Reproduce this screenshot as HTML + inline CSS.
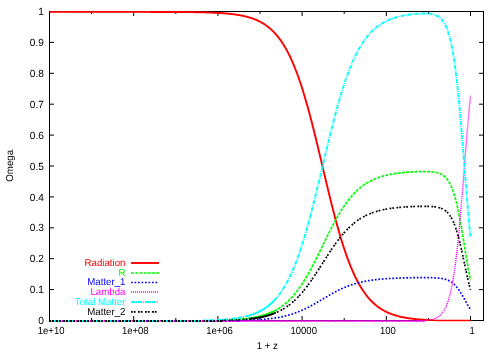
<!DOCTYPE html><html><head><meta charset="utf-8"><title>Omega vs 1+z</title><style>html,body{margin:0;padding:0;background:#fff}svg{display:block;will-change:transform}text{font-family:"Liberation Sans",sans-serif;font-size:10px;fill:#000}path{fill:none}</style></head><body>
<svg width="500" height="350" viewBox="0 0 500 350">
<rect width="500" height="350" fill="#fff"/>
<path d="M49.5 11.5 H483.5 V320.5 H49.5 Z" stroke="#000" stroke-width="1" shape-rendering="crispEdges"/>
<path d="M49.5 289.60 h4.5 M483.5 289.60 h-4.5 M49.5 258.70 h4.5 M483.5 258.70 h-4.5 M49.5 227.80 h4.5 M483.5 227.80 h-4.5 M49.5 196.90 h4.5 M483.5 196.90 h-4.5 M49.5 166.00 h4.5 M483.5 166.00 h-4.5 M49.5 135.10 h4.5 M483.5 135.10 h-4.5 M49.5 104.20 h4.5 M483.5 104.20 h-4.5 M49.5 73.30 h4.5 M483.5 73.30 h-4.5 M49.5 42.40 h4.5 M483.5 42.40 h-4.5 M91.60 320.5 v-2.5 M91.60 11.5 v2.5 M133.70 320.5 v-4.5 M133.70 11.5 v4.5 M175.80 320.5 v-2.5 M175.80 11.5 v2.5 M217.90 320.5 v-4.5 M217.90 11.5 v4.5 M260.00 320.5 v-2.5 M260.00 11.5 v2.5 M302.10 320.5 v-4.5 M302.10 11.5 v4.5 M344.20 320.5 v-2.5 M344.20 11.5 v2.5 M386.30 320.5 v-4.5 M386.30 11.5 v4.5 M428.40 320.5 v-2.5 M428.40 11.5 v2.5 M470.50 320.5 v-4.5 M470.50 11.5 v4.5" stroke="#000" stroke-width="1"/>
<text transform="translate(43.90,324.10) skewX(0.1) scale(0.975,1)" text-anchor="end" style="font-size:10.40px;fill:#000">0</text>
<text transform="translate(43.90,293.20) skewX(0.1) scale(0.975,1)" text-anchor="end" style="font-size:10.40px;fill:#000">0.1</text>
<text transform="translate(43.90,262.30) skewX(0.1) scale(0.975,1)" text-anchor="end" style="font-size:10.40px;fill:#000">0.2</text>
<text transform="translate(43.90,231.40) skewX(0.1) scale(0.975,1)" text-anchor="end" style="font-size:10.40px;fill:#000">0.3</text>
<text transform="translate(43.90,200.50) skewX(0.1) scale(0.975,1)" text-anchor="end" style="font-size:10.40px;fill:#000">0.4</text>
<text transform="translate(43.90,169.60) skewX(0.1) scale(0.975,1)" text-anchor="end" style="font-size:10.40px;fill:#000">0.5</text>
<text transform="translate(43.90,138.70) skewX(0.1) scale(0.975,1)" text-anchor="end" style="font-size:10.40px;fill:#000">0.6</text>
<text transform="translate(43.90,107.80) skewX(0.1) scale(0.975,1)" text-anchor="end" style="font-size:10.40px;fill:#000">0.7</text>
<text transform="translate(43.90,76.90) skewX(0.1) scale(0.975,1)" text-anchor="end" style="font-size:10.40px;fill:#000">0.8</text>
<text transform="translate(43.90,46.00) skewX(0.1) scale(0.975,1)" text-anchor="end" style="font-size:10.40px;fill:#000">0.9</text>
<text transform="translate(43.90,15.10) skewX(0.1) scale(0.975,1)" text-anchor="end" style="font-size:10.40px;fill:#000">1</text>
<text transform="translate(51.10,334.10) skewX(0.1) scale(0.925,1)" text-anchor="middle" style="font-size:10.30px;fill:#000">1e+10</text>
<text transform="translate(135.30,334.10) skewX(0.1) scale(0.925,1)" text-anchor="middle" style="font-size:10.30px;fill:#000">1e+08</text>
<text transform="translate(219.50,334.10) skewX(0.1) scale(0.925,1)" text-anchor="middle" style="font-size:10.30px;fill:#000">1e+06</text>
<text transform="translate(303.70,334.10) skewX(0.1) scale(0.925,1)" text-anchor="middle" style="font-size:10.30px;fill:#000">10000</text>
<text transform="translate(387.90,334.10) skewX(0.1) scale(0.925,1)" text-anchor="middle" style="font-size:10.30px;fill:#000">100</text>
<text transform="translate(472.10,334.10) skewX(0.1) scale(0.925,1)" text-anchor="middle" style="font-size:10.30px;fill:#000">1</text>
<text transform="translate(267.30,348.50) skewX(0.1) scale(0.970,1)" text-anchor="middle" style="font-size:10.00px;fill:#000">1 + z</text>
<text transform="translate(13.00,165.80) rotate(-90) skewX(0.1) scale(0.970,1)" text-anchor="middle" style="font-size:10.00px;fill:#000">Omega</text>
<text transform="translate(125.50,266.00) skewX(0.1) scale(0.970,1)" text-anchor="end" style="font-size:10.00px;fill:#ff0000">Radiation</text>
<path d="M131 263.0 H159" stroke="#ff0000" stroke-width="1.9"/>
<path d="M49.50 11.90 L50.03 11.90 L50.55 11.90 L51.08 11.90 L51.61 11.90 L52.13 11.90 L52.66 11.90 L53.18 11.90 L53.71 11.90 L54.24 11.90 L54.76 11.90 L55.29 11.90 L55.82 11.90 L56.34 11.90 L56.87 11.90 L57.39 11.90 L57.92 11.90 L58.45 11.90 L58.97 11.90 L59.50 11.90 L60.02 11.90 L60.55 11.90 L61.08 11.90 L61.60 11.90 L62.13 11.90 L62.66 11.90 L63.18 11.90 L63.71 11.90 L64.23 11.90 L64.76 11.90 L65.29 11.90 L65.81 11.90 L66.34 11.90 L66.87 11.90 L67.39 11.90 L67.92 11.90 L68.44 11.90 L68.97 11.90 L69.50 11.90 L70.02 11.90 L70.55 11.90 L71.08 11.90 L71.60 11.90 L72.13 11.90 L72.66 11.90 L73.18 11.90 L73.71 11.90 L74.23 11.90 L74.76 11.90 L75.29 11.90 L75.81 11.90 L76.34 11.90 L76.87 11.90 L77.39 11.90 L77.92 11.90 L78.44 11.90 L78.97 11.90 L79.50 11.90 L80.02 11.90 L80.55 11.90 L81.08 11.90 L81.60 11.90 L82.13 11.90 L82.65 11.90 L83.18 11.90 L83.71 11.90 L84.23 11.90 L84.76 11.90 L85.28 11.90 L85.81 11.90 L86.34 11.90 L86.86 11.90 L87.39 11.90 L87.92 11.90 L88.44 11.90 L88.97 11.90 L89.49 11.90 L90.02 11.90 L90.55 11.90 L91.07 11.90 L91.60 11.90 L92.13 11.90 L92.65 11.90 L93.18 11.90 L93.71 11.90 L94.23 11.90 L94.76 11.90 L95.28 11.90 L95.81 11.90 L96.34 11.90 L96.86 11.90 L97.39 11.90 L97.92 11.90 L98.44 11.90 L98.97 11.90 L99.49 11.90 L100.02 11.90 L100.55 11.90 L101.07 11.90 L101.60 11.90 L102.12 11.90 L102.65 11.90 L103.18 11.90 L103.70 11.90 L104.23 11.90 L104.76 11.90 L105.28 11.90 L105.81 11.90 L106.33 11.90 L106.86 11.90 L107.39 11.90 L107.91 11.90 L108.44 11.90 L108.97 11.90 L109.49 11.90 L110.02 11.90 L110.54 11.90 L111.07 11.90 L111.60 11.90 L112.12 11.90 L112.65 11.90 L113.18 11.90 L113.70 11.90 L114.23 11.90 L114.76 11.90 L115.28 11.90 L115.81 11.90 L116.33 11.90 L116.86 11.90 L117.39 11.90 L117.91 11.90 L118.44 11.90 L118.97 11.90 L119.49 11.90 L120.02 11.90 L120.54 11.90 L121.07 11.91 L121.60 11.91 L122.12 11.91 L122.65 11.91 L123.17 11.91 L123.70 11.91 L124.23 11.91 L124.75 11.91 L125.28 11.91 L125.81 11.91 L126.33 11.91 L126.86 11.91 L127.38 11.91 L127.91 11.91 L128.44 11.91 L128.96 11.91 L129.49 11.91 L130.02 11.91 L130.54 11.91 L131.07 11.91 L131.59 11.91 L132.12 11.91 L132.65 11.91 L133.17 11.91 L133.70 11.91 L134.23 11.91 L134.75 11.91 L135.28 11.91 L135.81 11.91 L136.33 11.91 L136.86 11.91 L137.38 11.91 L137.91 11.91 L138.44 11.91 L138.96 11.91 L139.49 11.91 L140.02 11.91 L140.54 11.91 L141.07 11.92 L141.59 11.92 L142.12 11.92 L142.65 11.92 L143.17 11.92 L143.70 11.92 L144.23 11.92 L144.75 11.92 L145.28 11.92 L145.80 11.92 L146.33 11.92 L146.86 11.92 L147.38 11.92 L147.91 11.92 L148.44 11.92 L148.96 11.92 L149.49 11.92 L150.01 11.92 L150.54 11.93 L151.07 11.93 L151.59 11.93 L152.12 11.93 L152.65 11.93 L153.17 11.93 L153.70 11.93 L154.22 11.93 L154.75 11.93 L155.28 11.93 L155.80 11.93 L156.33 11.93 L156.85 11.94 L157.38 11.94 L157.91 11.94 L158.43 11.94 L158.96 11.94 L159.49 11.94 L160.01 11.94 L160.54 11.94 L161.06 11.95 L161.59 11.95 L162.12 11.95 L162.64 11.95 L163.17 11.95 L163.70 11.95 L164.22 11.95 L164.75 11.96 L165.28 11.96 L165.80 11.96 L166.33 11.96 L166.85 11.96 L167.38 11.96 L167.91 11.97 L168.43 11.97 L168.96 11.97 L169.48 11.97 L170.01 11.97 L170.54 11.98 L171.06 11.98 L171.59 11.98 L172.12 11.98 L172.64 11.99 L173.17 11.99 L173.69 11.99 L174.22 11.99 L174.75 12.00 L175.27 12.00 L175.80 12.00 L176.33 12.00 L176.85 12.01 L177.38 12.01 L177.91 12.01 L178.43 12.02 L178.96 12.02 L179.48 12.02 L180.01 12.03 L180.54 12.03 L181.06 12.03 L181.59 12.04 L182.12 12.04 L182.64 12.05 L183.17 12.05 L183.69 12.06 L184.22 12.06 L184.75 12.07 L185.27 12.07 L185.80 12.07 L186.33 12.08 L186.85 12.09 L187.38 12.09 L187.90 12.10 L188.43 12.10 L188.96 12.11 L189.48 12.11 L190.01 12.12 L190.53 12.13 L191.06 12.13 L191.59 12.14 L192.11 12.15 L192.64 12.15 L193.17 12.16 L193.69 12.17 L194.22 12.18 L194.75 12.19 L195.27 12.19 L195.80 12.20 L196.32 12.21 L196.85 12.22 L197.38 12.23 L197.90 12.24 L198.43 12.25 L198.95 12.26 L199.48 12.27 L200.01 12.28 L200.53 12.29 L201.06 12.30 L201.59 12.31 L202.11 12.33 L202.64 12.34 L203.17 12.35 L203.69 12.36 L204.22 12.38 L204.74 12.39 L205.27 12.41 L205.80 12.42 L206.32 12.44 L206.85 12.45 L207.38 12.47 L207.90 12.48 L208.43 12.50 L208.95 12.52 L209.48 12.54 L210.01 12.56 L210.53 12.58 L211.06 12.59 L211.58 12.61 L212.11 12.64 L212.64 12.66 L213.16 12.68 L213.69 12.70 L214.22 12.73 L214.74 12.75 L215.27 12.77 L215.80 12.80 L216.32 12.83 L216.85 12.85 L217.37 12.88 L217.90 12.91 L218.43 12.94 L218.95 12.97 L219.48 13.00 L220.00 13.03 L220.53 13.06 L221.06 13.10 L221.58 13.13 L222.11 13.17 L222.64 13.21 L223.16 13.24 L223.69 13.28 L224.22 13.32 L224.74 13.36 L225.27 13.41 L225.79 13.45 L226.32 13.50 L226.85 13.54 L227.37 13.59 L227.90 13.64 L228.43 13.69 L228.95 13.74 L229.48 13.80 L230.00 13.85 L230.53 13.91 L231.06 13.96 L231.58 14.02 L232.11 14.09 L232.63 14.15 L233.16 14.21 L233.69 14.28 L234.21 14.35 L234.74 14.42 L235.27 14.50 L235.79 14.57 L236.32 14.65 L236.85 14.73 L237.37 14.81 L237.90 14.89 L238.42 14.98 L238.95 15.07 L239.48 15.16 L240.00 15.25 L240.53 15.35 L241.06 15.45 L241.58 15.55 L242.11 15.66 L242.63 15.77 L243.16 15.88 L243.69 15.99 L244.21 16.11 L244.74 16.23 L245.27 16.36 L245.79 16.48 L246.32 16.62 L246.84 16.75 L247.37 16.89 L247.90 17.03 L248.42 17.18 L248.95 17.33 L249.47 17.49 L250.00 17.65 L250.53 17.81 L251.05 17.98 L251.58 18.16 L252.11 18.34 L252.63 18.52 L253.16 18.71 L253.69 18.90 L254.21 19.10 L254.74 19.31 L255.26 19.52 L255.79 19.74 L256.32 19.96 L256.84 20.19 L257.37 20.42 L257.89 20.67 L258.42 20.91 L258.95 21.17 L259.47 21.43 L260.00 21.70 L260.53 21.98 L261.05 22.26 L261.58 22.56 L262.11 22.86 L262.63 23.16 L263.16 23.48 L263.68 23.81 L264.21 24.14 L264.74 24.48 L265.26 24.83 L265.79 25.20 L266.32 25.57 L266.84 25.95 L267.37 26.34 L267.89 26.74 L268.42 27.15 L268.95 27.58 L269.47 28.01 L270.00 28.45 L270.52 28.91 L271.05 29.38 L271.58 29.86 L272.10 30.35 L272.63 30.86 L273.16 31.38 L273.68 31.91 L274.21 32.46 L274.74 33.01 L275.26 33.59 L275.79 34.18 L276.31 34.78 L276.84 35.40 L277.37 36.03 L277.89 36.68 L278.42 37.34 L278.95 38.02 L279.47 38.72 L280.00 39.43 L280.52 40.16 L281.05 40.91 L281.58 41.67 L282.10 42.46 L282.63 43.26 L283.15 44.08 L283.68 44.92 L284.21 45.78 L284.73 46.65 L285.26 47.55 L285.79 48.47 L286.31 49.41 L286.84 50.37 L287.37 51.35 L287.89 52.35 L288.42 53.37 L288.94 54.42 L289.47 55.48 L290.00 56.57 L290.52 57.68 L291.05 58.82 L291.58 59.97 L292.10 61.15 L292.63 62.36 L293.15 63.58 L293.68 64.83 L294.21 66.11 L294.73 67.41 L295.26 68.73 L295.78 70.08 L296.31 71.45 L296.84 72.84 L297.36 74.27 L297.89 75.71 L298.42 77.18 L298.94 78.67 L299.47 80.19 L300.00 81.74 L300.52 83.31 L301.05 84.90 L301.57 86.52 L302.10 88.16 L302.63 89.82 L303.15 91.51 L303.68 93.22 L304.21 94.96 L304.73 96.72 L305.26 98.50 L305.78 100.31 L306.31 102.14 L306.84 103.99 L307.36 105.86 L307.89 107.75 L308.42 109.66 L308.94 111.60 L309.47 113.55 L309.99 115.53 L310.52 117.52 L311.05 119.53 L311.57 121.56 L312.10 123.60 L312.62 125.66 L313.15 127.74 L313.68 129.83 L314.20 131.94 L314.73 134.06 L315.26 136.19 L315.78 138.33 L316.31 140.49 L316.83 142.66 L317.36 144.83 L317.89 147.02 L318.41 149.21 L318.94 151.41 L319.47 153.62 L319.99 155.83 L320.52 158.04 L321.05 160.26 L321.57 162.48 L322.10 164.71 L322.62 166.93 L323.15 169.16 L323.68 171.38 L324.20 173.60 L324.73 175.82 L325.25 178.03 L325.78 180.24 L326.31 182.44 L326.83 184.64 L327.36 186.83 L327.89 189.01 L328.41 191.18 L328.94 193.35 L329.47 195.50 L329.99 197.64 L330.52 199.76 L331.04 201.88 L331.57 203.98 L332.10 206.06 L332.62 208.13 L333.15 210.19 L333.68 212.23 L334.20 214.25 L334.73 216.25 L335.25 218.23 L335.78 220.20 L336.31 222.14 L336.83 224.07 L337.36 225.97 L337.88 227.86 L338.41 229.72 L338.94 231.56 L339.46 233.38 L339.99 235.17 L340.52 236.95 L341.04 238.70 L341.57 240.42 L342.10 242.12 L342.62 243.80 L343.15 245.46 L343.67 247.09 L344.20 248.70 L344.73 250.28 L345.25 251.84 L345.78 253.37 L346.31 254.88 L346.83 256.36 L347.36 257.82 L347.88 259.25 L348.41 260.66 L348.94 262.05 L349.46 263.41 L349.99 264.75 L350.52 266.06 L351.04 267.35 L351.57 268.61 L352.09 269.85 L352.62 271.07 L353.15 272.26 L353.67 273.43 L354.20 274.58 L354.73 275.70 L355.25 276.80 L355.78 277.88 L356.30 278.94 L356.83 279.98 L357.36 280.99 L357.88 281.98 L358.41 282.95 L358.94 283.90 L359.46 284.83 L359.99 285.74 L360.51 286.63 L361.04 287.50 L361.57 288.35 L362.09 289.18 L362.62 289.99 L363.15 290.79 L363.67 291.56 L364.20 292.32 L364.72 293.06 L365.25 293.78 L365.78 294.49 L366.30 295.18 L366.83 295.85 L367.36 296.51 L367.88 297.15 L368.41 297.77 L368.93 298.39 L369.46 298.98 L369.99 299.56 L370.51 300.13 L371.04 300.68 L371.56 301.22 L372.09 301.75 L372.62 302.26 L373.14 302.76 L373.67 303.25 L374.20 303.73 L374.72 304.19 L375.25 304.64 L375.78 305.08 L376.30 305.51 L376.83 305.93 L377.35 306.34 L377.88 306.73 L378.41 307.12 L378.93 307.50 L379.46 307.86 L379.99 308.22 L380.51 308.57 L381.04 308.91 L381.56 309.24 L382.09 309.56 L382.62 309.87 L383.14 310.18 L383.67 310.47 L384.19 310.76 L384.72 311.04 L385.25 311.32 L385.77 311.58 L386.30 311.84 L386.83 312.09 L387.35 312.34 L387.88 312.58 L388.41 312.81 L388.93 313.04 L389.46 313.26 L389.98 313.47 L390.51 313.68 L391.04 313.88 L391.56 314.08 L392.09 314.27 L392.62 314.46 L393.14 314.64 L393.67 314.82 L394.19 314.99 L394.72 315.16 L395.25 315.32 L395.77 315.48 L396.30 315.63 L396.82 315.78 L397.35 315.93 L397.88 316.07 L398.40 316.21 L398.93 316.34 L399.46 316.47 L399.98 316.60 L400.51 316.72 L401.04 316.84 L401.56 316.96 L402.09 317.07 L402.61 317.18 L403.14 317.29 L403.67 317.39 L404.19 317.49 L404.72 317.59 L405.25 317.69 L405.77 317.78 L406.30 317.87 L406.82 317.96 L407.35 318.04 L407.88 318.13 L408.40 318.21 L408.93 318.29 L409.46 318.36 L409.98 318.44 L410.51 318.51 L411.03 318.58 L411.56 318.65 L412.09 318.71 L412.61 318.78 L413.14 318.84 L413.67 318.90 L414.19 318.96 L414.72 319.02 L415.24 319.07 L415.77 319.13 L416.30 319.18 L416.82 319.23 L417.35 319.28 L417.88 319.33 L418.40 319.38 L418.93 319.42 L419.45 319.47 L419.98 319.51 L420.51 319.55 L421.03 319.60 L421.56 319.64 L422.08 319.67 L422.61 319.71 L423.14 319.75 L423.66 319.78 L424.19 319.82 L424.72 319.85 L425.24 319.88 L425.77 319.92 L426.29 319.95 L426.82 319.98 L427.35 320.01 L427.87 320.03 L428.40 320.06 L428.93 320.09 L429.45 320.11" stroke="#ff0000" stroke-width="1.9" stroke-linejoin="round"/>
<path d="M429.5 320.11 L437.5 320.6 H470.5" stroke="#ff0000" stroke-width="1.5"/>
<text transform="translate(125.50,275.80) skewX(0.1) scale(0.970,1)" text-anchor="end" style="font-size:10.00px;fill:#00ff00">R</text>
<path d="M131 273.0 H159" stroke="#00ff00" stroke-width="1.7" stroke-dasharray="3 1.2"/>
<path d="M49 321 H217" stroke="#00ff00" stroke-width="2" shape-rendering="crispEdges" stroke-dasharray="3 1"/>
<path d="M216.85 320.54 L217.37 320.52 L217.90 320.51 L218.43 320.50 L218.95 320.48 L219.48 320.47 L220.00 320.45 L220.53 320.43 L221.06 320.42 L221.58 320.40 L222.11 320.38 L222.64 320.37 L223.16 320.35 L223.69 320.33 L224.22 320.31 L224.74 320.29 L225.27 320.27 L225.79 320.25 L226.32 320.22 L226.85 320.20 L227.37 320.18 L227.90 320.15 L228.43 320.13 L228.95 320.10 L229.48 320.08 L230.00 320.05 L230.53 320.02 L231.06 320.00 L231.58 319.97 L232.11 319.94 L232.63 319.91 L233.16 319.87 L233.69 319.84 L234.21 319.81 L234.74 319.77 L235.27 319.74 L235.79 319.70 L236.32 319.66 L236.85 319.63 L237.37 319.59 L237.90 319.55 L238.42 319.50 L238.95 319.46 L239.48 319.42 L240.00 319.37 L240.53 319.32 L241.06 319.27 L241.58 319.22 L242.11 319.17 L242.63 319.12 L243.16 319.07 L243.69 319.01 L244.21 318.95 L244.74 318.89 L245.27 318.83 L245.79 318.77 L246.32 318.71 L246.84 318.64 L247.37 318.57 L247.90 318.50 L248.42 318.43 L248.95 318.36" stroke="#00ff00" stroke-width="1.7" stroke-linejoin="round" stroke-dasharray="3 1.2"/>
<path d="M248.95 318.36 L249.47 318.28 L250.00 318.21 L250.53 318.13 L251.05 318.04 L251.58 317.96 L252.11 317.87 L252.63 317.78 L253.16 317.69 L253.69 317.60 L254.21 317.50 L254.74 317.40 L255.26 317.30 L255.79 317.19 L256.32 317.08 L256.84 316.97 L257.37 316.86 L257.89 316.74 L258.42 316.62 L258.95 316.49 L259.47 316.37 L260.00 316.24 L260.53 316.10 L261.05 315.96 L261.58 315.82 L262.11 315.68 L262.63 315.53 L263.16 315.37 L263.68 315.21 L264.21 315.05 L264.74 314.88 L265.26 314.71 L265.79 314.54 L266.32 314.36 L266.84 314.17 L267.37 313.98 L267.89 313.79 L268.42 313.59 L268.95 313.38 L269.47 313.17 L270.00 312.95 L270.52 312.73 L271.05 312.50 L271.58 312.27 L272.10 312.03 L272.63 311.79 L273.16 311.53 L273.68 311.28 L274.21 311.01" stroke="#00ff00" stroke-width="2.0" stroke-linejoin="round"/>
<path d="M274.21 311.01 L274.74 310.74 L275.26 310.46 L275.79 310.17 L276.31 309.88 L276.84 309.58 L277.37 309.27 L277.89 308.96 L278.42 308.64 L278.95 308.31 L279.47 307.97 L280.00 307.62 L280.52 307.27 L281.05 306.90 L281.58 306.53 L282.10 306.15 L282.63 305.76 L283.15 305.36 L283.68 304.95 L284.21 304.54 L284.73 304.11 L285.26 303.67 L285.79 303.23 L286.31 302.77 L286.84 302.30 L287.37 301.83 L287.89 301.34 L288.42 300.85 L288.94 300.34 L289.47 299.82 L290.00 299.29 L290.52 298.75 L291.05 298.20 L291.58 297.64 L292.10 297.06 L292.63 296.48 L293.15 295.88 L293.68 295.27 L294.21 294.65 L294.73 294.02 L295.26 293.38 L295.78 292.73 L296.31 292.06 L296.84 291.38 L297.36 290.69 L297.89 289.99 L298.42 289.27 L298.94 288.55 L299.47 287.81 L300.00 287.06 L300.52 286.30 L301.05 285.52 L301.57 284.74 L302.10 283.94 L302.63 283.13 L303.15 282.31 L303.68 281.48 L304.21 280.63 L304.73 279.78 L305.26 278.91 L305.78 278.03 L306.31 277.14 L306.84 276.25 L307.36 275.34 L307.89 274.42 L308.42 273.49 L308.94 272.55 L309.47 271.60 L309.99 270.64 L310.52 269.67 L311.05 268.69 L311.57 267.71 L312.10 266.71 L312.62 265.71 L313.15 264.70 L313.68 263.69 L314.20 262.66 L314.73 261.63 L315.26 260.60 L315.78 259.55 L316.31 258.50 L316.83 257.45 L317.36 256.39 L317.89 255.33 L318.41 254.27 L318.94 253.20 L319.47 252.13 L319.99 251.05 L320.52 249.97 L321.05 248.90 L321.57 247.82 L322.10 246.74 L322.62 245.65 L323.15 244.57 L323.68 243.49 L324.20 242.41 L324.73 241.34 L325.25 240.26 L325.78 239.19 L326.31 238.12 L326.83 237.05 L327.36 235.98 L327.89 234.92 L328.41 233.87 L328.94 232.82 L329.47 231.77 L329.99 230.73 L330.52 229.70 L331.04 228.67 L331.57 227.65 L332.10 226.64 L332.62 225.63 L333.15 224.63 L333.68 223.64 L334.20 222.66 L334.73 221.69 L335.25 220.72 L335.78 219.77 L336.31 218.82 L336.83 217.89 L337.36 216.96 L337.88 216.05 L338.41 215.14 L338.94 214.25 L339.46 213.36 L339.99 212.49 L340.52 211.63 L341.04 210.78 L341.57 209.94 L342.10 209.11 L342.62 208.29 L343.15 207.49 L343.67 206.70 L344.20 205.92 L344.73 205.15 L345.25 204.39 L345.78 203.65 L346.31 202.91 L346.83 202.19 L347.36 201.48 L347.88 200.79 L348.41 200.10 L348.94 199.43 L349.46 198.77 L349.99 198.12 L350.52 197.48 L351.04 196.85 L351.57 196.24 L352.09 195.64 L352.62 195.04 L353.15 194.46 L353.67 193.90 L354.20 193.34 L354.73 192.79 L355.25 192.26 L355.78 191.73 L356.30 191.22 L356.83 190.72 L357.36 190.22 L357.88 189.74 L358.41 189.27 L358.94 188.81 L359.46 188.36 L359.99 187.91 L360.51 187.48 L361.04 187.06 L361.57 186.65 L362.09 186.24 L362.62 185.85 L363.15 185.46 L363.67 185.08 L364.20 184.72 L364.72 184.36 L365.25 184.01 L365.78 183.66 L366.30 183.33 L366.83 183.00 L367.36 182.68 L367.88 182.37 L368.41 182.06 L368.93 181.77 L369.46 181.48 L369.99 181.20 L370.51 180.92 L371.04 180.65 L371.56 180.39 L372.09 180.13 L372.62 179.88 L373.14 179.64 L373.67 179.40 L374.20 179.17 L374.72 178.95 L375.25 178.73 L375.78 178.51 L376.30 178.31 L376.83 178.10 L377.35 177.90 L377.88 177.71 L378.41 177.52 L378.93 177.34 L379.46 177.16 L379.99 176.99 L380.51 176.82 L381.04 176.66 L381.56 176.49 L382.09 176.34 L382.62 176.19 L383.14 176.04 L383.67 175.89 L384.19 175.75 L384.72 175.62 L385.25 175.48 L385.77 175.35 L386.30 175.23 L386.83 175.11 L387.35 174.99 L387.88 174.87 L388.41 174.76 L388.93 174.65 L389.46 174.54 L389.98 174.44 L390.51 174.34 L391.04 174.24 L391.56 174.14 L392.09 174.05 L392.62 173.96 L393.14 173.87 L393.67 173.78 L394.19 173.70 L394.72 173.62 L395.25 173.54 L395.77 173.46 L396.30 173.39 L396.82 173.32 L397.35 173.24 L397.88 173.18 L398.40 173.11 L398.93 173.04 L399.46 172.98 L399.98 172.92 L400.51 172.86 L401.04 172.80 L401.56 172.75 L402.09 172.69 L402.61 172.64 L403.14 172.59 L403.67 172.54 L404.19 172.49 L404.72 172.44 L405.25 172.40 L405.77 172.35 L406.30 172.31 L406.82 172.27 L407.35 172.23 L407.88 172.19 L408.40 172.15 L408.93 172.11 L409.46 172.08 L409.98 172.04 L410.51 172.01 L411.03 171.98 L411.56 171.95 L412.09 171.92 L412.61 171.89 L413.14 171.86 L413.67 171.83 L414.19 171.81 L414.72 171.78 L415.24 171.76 L415.77 171.74 L416.30 171.72 L416.82 171.70 L417.35 171.68 L417.88 171.66 L418.40 171.64 L418.93 171.63 L419.45 171.61 L419.98 171.60 L420.51 171.59 L421.03 171.58 L421.56 171.57 L422.08 171.57 L422.61 171.56 L423.14 171.56 L423.66 171.55 L424.19 171.55 L424.72 171.56 L425.24 171.56 L425.77 171.57 L426.29 171.58 L426.82 171.59 L427.35 171.60 L427.87 171.62 L428.40 171.64 L428.93 171.66 L429.45 171.69 L429.98 171.72 L430.51 171.75 L431.03 171.79 L431.56 171.84 L432.08 171.89 L432.61 171.94 L433.14 172.00 L433.66 172.07 L434.19 172.15 L434.72 172.23 L435.24 172.32 L435.77 172.43 L436.29 172.54 L436.82 172.66 L437.35 172.79 L437.87 172.94 L438.40 173.10 L438.93 173.28 L439.45 173.47 L439.98 173.68 L440.50 173.91 L441.03 174.16 L441.56 174.43 L442.08 174.72 L442.61 175.04 L443.13 175.39 L443.66 175.77 L444.19 176.19 L444.71 176.63 L445.24 177.12 L445.77 177.64 L446.29 178.21 L446.82 178.83 L447.34 179.50 L447.87 180.22 L448.40 180.99 L448.92 181.83 L449.45 182.73 L449.98 183.70 L450.50 184.75 L451.03 185.87 L451.56 187.07 L452.08 188.35 L452.61 189.73 L453.13 191.19 L453.66 192.75 L454.19 194.41 L454.71 196.18 L455.24 198.04 L455.77 200.01 L456.29 202.09 L456.82 204.28 L457.34 206.57 L457.87 208.98 L458.40 211.48 L458.92 214.09 L459.45 216.79 L459.98 219.59 L460.50 222.47 L461.03 225.43 L461.55 228.47 L462.08 231.56 L462.61 234.71 L463.13 237.89 L463.66 241.11 L464.19 244.35 L464.71 247.59 L465.24 250.82 L465.76 254.04 L466.29 257.22 L466.82 260.37 L467.34 263.46 L467.87 266.49 L468.39 269.46 L468.92 272.34 L469.45 275.13 L469.97 277.84 L470.50 280.44" stroke="#00ff00" stroke-width="1.7" stroke-linejoin="round" stroke-dasharray="3 1.2"/>
<text transform="translate(125.50,285.20) skewX(0.1) scale(0.970,1)" text-anchor="end" style="font-size:10.00px;fill:#0000ff">Matter_1</text>
<path d="M131 282.5 H159" stroke="#0000ff" stroke-width="1.7" stroke-dasharray="1.7 1.8"/>
<path d="M49 321 H239" stroke="#0000ff" stroke-width="2" shape-rendering="crispEdges" stroke-dasharray="2 2"/>
<path d="M239.48 320.54 L240.00 320.53 L240.53 320.51 L241.06 320.50 L241.58 320.48 L242.11 320.47 L242.63 320.45 L243.16 320.44 L243.69 320.42 L244.21 320.41 L244.74 320.39 L245.27 320.37 L245.79 320.35 L246.32 320.33 L246.84 320.32 L247.37 320.30 L247.90 320.28 L248.42 320.26 L248.95 320.23 L249.47 320.21 L250.00 320.19 L250.53 320.17 L251.05 320.14 L251.58 320.12 L252.11 320.09 L252.63 320.07 L253.16 320.04 L253.69 320.01 L254.21 319.98 L254.74 319.96 L255.26 319.93 L255.79 319.89 L256.32 319.86 L256.84 319.83 L257.37 319.80 L257.89 319.76 L258.42 319.73 L258.95 319.69 L259.47 319.66 L260.00 319.62 L260.53 319.58 L261.05 319.54 L261.58 319.50 L262.11 319.46 L262.63 319.41 L263.16 319.37 L263.68 319.32 L264.21 319.27 L264.74 319.23 L265.26 319.18 L265.79 319.13 L266.32 319.07 L266.84 319.02 L267.37 318.96 L267.89 318.91 L268.42 318.85 L268.95 318.79 L269.47 318.73 L270.00 318.67 L270.52 318.60 L271.05 318.54 L271.58 318.47 L272.10 318.40 L272.63 318.33 L273.16 318.25 L273.68 318.18 L274.21 318.10 L274.74 318.02 L275.26 317.94 L275.79 317.86 L276.31 317.77 L276.84 317.69 L277.37 317.60 L277.89 317.51 L278.42 317.41 L278.95 317.32 L279.47 317.22 L280.00 317.12 L280.52 317.02 L281.05 316.91 L281.58 316.80 L282.10 316.69 L282.63 316.58 L283.15 316.46 L283.68 316.34 L284.21 316.22 L284.73 316.10 L285.26 315.97 L285.79 315.84 L286.31 315.71 L286.84 315.58 L287.37 315.44 L287.89 315.30 L288.42 315.15 L288.94 315.01 L289.47 314.85 L290.00 314.70 L290.52 314.54 L291.05 314.38 L291.58 314.22 L292.10 314.06 L292.63 313.89 L293.15 313.71 L293.68 313.54 L294.21 313.36 L294.73 313.17 L295.26 312.99 L295.78 312.80 L296.31 312.60 L296.84 312.41 L297.36 312.21 L297.89 312.00 L298.42 311.80 L298.94 311.58 L299.47 311.37 L300.00 311.15 L300.52 310.93 L301.05 310.71 L301.57 310.48 L302.10 310.25 L302.63 310.01 L303.15 309.77 L303.68 309.53 L304.21 309.29 L304.73 309.04 L305.26 308.79 L305.78 308.53 L306.31 308.28 L306.84 308.02 L307.36 307.75 L307.89 307.48 L308.42 307.22 L308.94 306.94 L309.47 306.67 L309.99 306.39 L310.52 306.11 L311.05 305.82 L311.57 305.54 L312.10 305.25 L312.62 304.96 L313.15 304.67 L313.68 304.37 L314.20 304.07 L314.73 303.78 L315.26 303.48 L315.78 303.17 L316.31 302.87 L316.83 302.56 L317.36 302.26 L317.89 301.95 L318.41 301.64 L318.94 301.33 L319.47 301.02 L319.99 300.71 L320.52 300.39 L321.05 300.08 L321.57 299.77 L322.10 299.45 L322.62 299.14 L323.15 298.83 L323.68 298.51 L324.20 298.20 L324.73 297.89 L325.25 297.58 L325.78 297.26 L326.31 296.95 L326.83 296.64 L327.36 296.33 L327.89 296.03 L328.41 295.72 L328.94 295.42 L329.47 295.11 L329.99 294.81 L330.52 294.51 L331.04 294.21 L331.57 293.92 L332.10 293.62 L332.62 293.33 L333.15 293.04 L333.68 292.75 L334.20 292.47 L334.73 292.19 L335.25 291.91 L335.78 291.63 L336.31 291.36 L336.83 291.08 L337.36 290.82 L337.88 290.55 L338.41 290.29 L338.94 290.03 L339.46 289.77 L339.99 289.52 L340.52 289.27 L341.04 289.02 L341.57 288.78 L342.10 288.54 L342.62 288.30 L343.15 288.07 L343.67 287.84 L344.20 287.61 L344.73 287.39 L345.25 287.17 L345.78 286.95 L346.31 286.74 L346.83 286.53 L347.36 286.33 L347.88 286.12 L348.41 285.92 L348.94 285.73 L349.46 285.54 L349.99 285.35 L350.52 285.16 L351.04 284.98 L351.57 284.80 L352.09 284.63 L352.62 284.46 L353.15 284.29 L353.67 284.12 L354.20 283.96 L354.73 283.80 L355.25 283.65 L355.78 283.50 L356.30 283.35 L356.83 283.20 L357.36 283.06 L357.88 282.92 L358.41 282.78 L358.94 282.65 L359.46 282.52 L359.99 282.39 L360.51 282.26 L361.04 282.14 L361.57 282.02 L362.09 281.90 L362.62 281.79 L363.15 281.68 L363.67 281.57 L364.20 281.46 L364.72 281.36 L365.25 281.25 L365.78 281.16 L366.30 281.06 L366.83 280.96 L367.36 280.87 L367.88 280.78 L368.41 280.69 L368.93 280.61 L369.46 280.52 L369.99 280.44 L370.51 280.36 L371.04 280.28 L371.56 280.21 L372.09 280.13 L372.62 280.06 L373.14 279.99 L373.67 279.92 L374.20 279.85 L374.72 279.79 L375.25 279.72 L375.78 279.66 L376.30 279.60 L376.83 279.54 L377.35 279.48 L377.88 279.43 L378.41 279.37 L378.93 279.32 L379.46 279.27 L379.99 279.22 L380.51 279.17 L381.04 279.12 L381.56 279.08 L382.09 279.03 L382.62 278.99 L383.14 278.94 L383.67 278.90 L384.19 278.86 L384.72 278.82 L385.25 278.78 L385.77 278.74 L386.30 278.71 L386.83 278.67 L387.35 278.64 L387.88 278.60 L388.41 278.57 L388.93 278.54 L389.46 278.51 L389.98 278.48 L390.51 278.45 L391.04 278.42 L391.56 278.39 L392.09 278.37 L392.62 278.34 L393.14 278.31 L393.67 278.29 L394.19 278.26 L394.72 278.24 L395.25 278.22 L395.77 278.20 L396.30 278.17 L396.82 278.15 L397.35 278.13 L397.88 278.11 L398.40 278.09 L398.93 278.07 L399.46 278.06 L399.98 278.04 L400.51 278.02 L401.04 278.00 L401.56 277.99 L402.09 277.97 L402.61 277.96 L403.14 277.94 L403.67 277.93 L404.19 277.91 L404.72 277.90 L405.25 277.89 L405.77 277.87 L406.30 277.86 L406.82 277.85 L407.35 277.84 L407.88 277.83 L408.40 277.81 L408.93 277.80 L409.46 277.79 L409.98 277.78 L410.51 277.77 L411.03 277.76 L411.56 277.76 L412.09 277.75 L412.61 277.74 L413.14 277.73 L413.67 277.72 L414.19 277.72 L414.72 277.71 L415.24 277.70 L415.77 277.70 L416.30 277.69 L416.82 277.68 L417.35 277.68 L417.88 277.67 L418.40 277.67 L418.93 277.66 L419.45 277.66 L419.98 277.66 L420.51 277.65 L421.03 277.65 L421.56 277.65 L422.08 277.65 L422.61 277.64 L423.14 277.64 L423.66 277.64 L424.19 277.64 L424.72 277.64 L425.24 277.64 L425.77 277.65 L426.29 277.65 L426.82 277.65 L427.35 277.66 L427.87 277.66 L428.40 277.67 L428.93 277.67 L429.45 277.68 L429.98 277.69 L430.51 277.70 L431.03 277.71 L431.56 277.72 L432.08 277.74 L432.61 277.76 L433.14 277.77 L433.66 277.79 L434.19 277.81 L434.72 277.84 L435.24 277.87 L435.77 277.90 L436.29 277.93 L436.82 277.96 L437.35 278.00 L437.87 278.04 L438.40 278.09 L438.93 278.14 L439.45 278.20 L439.98 278.26 L440.50 278.32 L441.03 278.40 L441.56 278.48 L442.08 278.56 L442.61 278.65 L443.13 278.76 L443.66 278.87 L444.19 278.99 L444.71 279.12 L445.24 279.26 L445.77 279.41 L446.29 279.57 L446.82 279.75 L447.34 279.95 L447.87 280.16 L448.40 280.38 L448.92 280.62 L449.45 280.89 L449.98 281.17 L450.50 281.47 L451.03 281.79 L451.56 282.14 L452.08 282.52 L452.61 282.91 L453.13 283.34 L453.66 283.79 L454.19 284.27 L454.71 284.79 L455.24 285.33 L455.77 285.90 L456.29 286.50 L456.82 287.14 L457.34 287.80 L457.87 288.50 L458.40 289.23 L458.92 289.98 L459.45 290.77 L459.98 291.58 L460.50 292.41 L461.03 293.27 L461.55 294.15 L462.08 295.05 L462.61 295.96 L463.13 296.89 L463.66 297.82 L464.19 298.76 L464.71 299.70 L465.24 300.64 L465.76 301.57 L466.29 302.50 L466.82 303.41 L467.34 304.31 L467.87 305.19 L468.39 306.05 L468.92 306.88 L469.45 307.69 L469.97 308.48 L470.50 309.23" stroke="#0000ff" stroke-width="1.7" stroke-linejoin="round" stroke-dasharray="1.7 1.8"/>
<text transform="translate(125.50,295.30) skewX(0.1) scale(0.970,1)" text-anchor="end" style="font-size:10.00px;fill:#ff00ff">Lambda</text>
<path d="M131 292.0 H159" stroke="#ff00ff" stroke-width="1.7" stroke-dasharray="1.1 0.9"/>
<path d="M49 321 H425" stroke="#ff00ff" stroke-width="2" stroke-opacity="0.6"/>
<path d="M49 321 H425" stroke="#ff00ff" stroke-width="2" stroke-dasharray="1 2.4"/>
<path d="M424.72 320.55 L425.24 320.50 L425.77 320.46 L426.29 320.41 L426.82 320.36 L427.35 320.30 L427.87 320.24 L428.40 320.17 L428.93 320.09 L429.45 320.01 L429.98 319.92 L430.51 319.83 L431.03 319.72 L431.56 319.61 L432.08 319.48 L432.61 319.35 L433.14 319.20 L433.66 319.04 L434.19 318.86 L434.72 318.67 L435.24 318.46 L435.77 318.23 L436.29 317.98 L436.82 317.71 L437.35 317.42 L437.87 317.10 L438.40 316.76 L438.93 316.38 L439.45 315.97 L439.98 315.52 L440.50 315.04 L441.03 314.51 L441.56 313.94 L442.08 313.32 L442.61 312.64 L443.13 311.91 L443.66 311.12 L444.19 310.26 L444.71 309.32 L445.24 308.31 L445.77 307.22 L446.29 306.04 L446.82 304.76 L447.34 303.38 L447.87 301.88 L448.40 300.28 L448.92 298.54 L449.45 296.68 L449.98 294.67 L450.50 292.51 L451.03 290.20 L451.56 287.72 L452.08 285.06 L452.61 282.23 L453.13 279.21 L453.66 275.98 L454.19 272.56 L454.71 268.93 L455.24 265.08 L455.77 261.01 L456.29 256.73 L456.82 252.22 L457.34 247.49 L457.87 242.54 L458.40 237.38 L458.92 232.01 L459.45 226.44 L459.98 220.68 L460.50 214.74 L461.03 208.64 L461.55 202.39 L462.08 196.02 L462.61 189.54 L463.13 182.98 L463.66 176.35 L464.19 169.69 L464.71 163.02 L465.24 156.36 L465.76 149.74 L466.29 143.18 L466.82 136.70 L467.34 130.33 L467.87 124.09 L468.39 118.00 L468.92 112.06 L469.45 106.31 L469.97 100.74 L470.50 95.38" stroke="#ff00ff" stroke-width="1.4" stroke-linejoin="round" stroke-dasharray="1.1 0.9"/>
<text transform="translate(125.50,305.10) skewX(0.1) scale(0.970,1)" text-anchor="end" style="font-size:10.00px;fill:#00ffff">Total Matter</text>
<path d="M131 302.0 H159" stroke="#00ffff" stroke-width="1.9" stroke-dasharray="4 1 1 1"/>
<path d="M49 321 H203" stroke="#00ffff" stroke-width="2" shape-rendering="crispEdges" stroke-dasharray="4 1 1 1"/>
<path d="M203.17 320.55 L203.69 320.54 L204.22 320.52 L204.74 320.51 L205.27 320.49 L205.80 320.48 L206.32 320.46 L206.85 320.45 L207.38 320.43 L207.90 320.42 L208.43 320.40 L208.95 320.38 L209.48 320.36 L210.01 320.34 L210.53 320.32 L211.06 320.31 L211.58 320.29 L212.11 320.26 L212.64 320.24 L213.16 320.22 L213.69 320.20 L214.22 320.17 L214.74 320.15 L215.27 320.13 L215.80 320.10 L216.32 320.07 L216.85 320.05 L217.37 320.02 L217.90 319.99 L218.43 319.96 L218.95 319.93 L219.48 319.90 L220.00 319.87 L220.53 319.84 L221.06 319.80 L221.58 319.77 L222.11 319.73 L222.64 319.69 L223.16 319.66 L223.69 319.62 L224.22 319.58 L224.74 319.54 L225.27 319.49 L225.79 319.45 L226.32 319.40 L226.85 319.36 L227.37 319.31 L227.90 319.26 L228.43 319.21 L228.95 319.16 L229.48 319.10 L230.00 319.05 L230.53 318.99 L231.06 318.94 L231.58 318.88 L232.11 318.81 L232.63 318.75 L233.16 318.69 L233.69 318.62 L234.21 318.55 L234.74 318.48 L235.27 318.40 L235.79 318.33 L236.32 318.25 L236.85 318.17 L237.37 318.09 L237.90 318.01 L238.42 317.92 L238.95 317.83 L239.48 317.74 L240.00 317.65 L240.53 317.55 L241.06 317.45 L241.58 317.35 L242.11 317.24 L242.63 317.13 L243.16 317.02 L243.69 316.91 L244.21 316.79 L244.74 316.67 L245.27 316.54 L245.79 316.42 L246.32 316.28 L246.84 316.15 L247.37 316.01 L247.90 315.87 L248.42 315.72 L248.95 315.57" stroke="#00ffff" stroke-width="1.9" stroke-linejoin="round" stroke-dasharray="4 1 1 1"/>
<path d="M248.95 315.57 L249.47 315.41 L250.00 315.25 L250.53 315.09 L251.05 314.92 L251.58 314.74 L252.11 314.56 L252.63 314.38 L253.16 314.19 L253.69 314.00 L254.21 313.80 L254.74 313.59 L255.26 313.38 L255.79 313.16 L256.32 312.94 L256.84 312.71 L257.37 312.48 L257.89 312.23 L258.42 311.99 L258.95 311.73 L259.47 311.47 L260.00 311.20 L260.53 310.92 L261.05 310.64 L261.58 310.34 L262.11 310.04 L262.63 309.74 L263.16 309.42 L263.68 309.09 L264.21 308.76 L264.74 308.42 L265.26 308.07 L265.79 307.70 L266.32 307.33 L266.84 306.95 L267.37 306.56 L267.89 306.16 L268.42 305.75 L268.95 305.32 L269.47 304.89 L270.00 304.45 L270.52 303.99 L271.05 303.52 L271.58 303.04 L272.10 302.55 L272.63 302.04 L273.16 301.52 L273.68 300.99 L274.21 300.44" stroke="#00ffff" stroke-width="2.0" stroke-linejoin="round"/>
<path d="M274.21 300.44 L274.74 299.89 L275.26 299.31 L275.79 298.72 L276.31 298.12 L276.84 297.50 L277.37 296.87 L277.89 296.22 L278.42 295.56 L278.95 294.88 L279.47 294.18 L280.00 293.47 L280.52 292.74 L281.05 291.99 L281.58 291.23 L282.10 290.44 L282.63 289.64 L283.15 288.82 L283.68 287.98 L284.21 287.12 L284.73 286.25 L285.26 285.35 L285.79 284.43 L286.31 283.49 L286.84 282.53 L287.37 281.55 L287.89 280.55 L288.42 279.53 L288.94 278.48 L289.47 277.42 L290.00 276.33 L290.52 275.22 L291.05 274.08 L291.58 272.93 L292.10 271.75 L292.63 270.54 L293.15 269.32 L293.68 268.07 L294.21 266.79 L294.73 265.49 L295.26 264.17 L295.78 262.82 L296.31 261.45 L296.84 260.06 L297.36 258.63 L297.89 257.19 L298.42 255.72 L298.94 254.23 L299.47 252.71 L300.00 251.16 L300.52 249.59 L301.05 248.00 L301.57 246.38 L302.10 244.74 L302.63 243.08 L303.15 241.39 L303.68 239.68 L304.21 237.94 L304.73 236.18 L305.26 234.40 L305.78 232.59 L306.31 230.76 L306.84 228.91 L307.36 227.04 L307.89 225.15 L308.42 223.24 L308.94 221.30 L309.47 219.35 L309.99 217.37 L310.52 215.38 L311.05 213.37 L311.57 211.34 L312.10 209.30 L312.62 207.24 L313.15 205.16 L313.68 203.07 L314.20 200.96 L314.73 198.84 L315.26 196.71 L315.78 194.57 L316.31 192.41 L316.83 190.24 L317.36 188.07 L317.89 185.88 L318.41 183.69 L318.94 181.49 L319.47 179.28 L319.99 177.07 L320.52 174.86 L321.05 172.64 L321.57 170.42 L322.10 168.19 L322.62 165.97 L323.15 163.74 L323.68 161.52 L324.20 159.30 L324.73 157.08 L325.25 154.87 L325.78 152.66 L326.31 150.46 L326.83 148.26 L327.36 146.07 L327.89 143.89 L328.41 141.72 L328.94 139.55 L329.47 137.40 L329.99 135.26 L330.52 133.14 L331.04 131.02 L331.57 128.92 L332.10 126.84 L332.62 124.77 L333.15 122.71 L333.68 120.67 L334.20 118.65 L334.73 116.65 L335.25 114.67 L335.78 112.70 L336.31 110.76 L336.83 108.83 L337.36 106.93 L337.88 105.04 L338.41 103.18 L338.94 101.34 L339.46 99.52 L339.99 97.73 L340.52 95.95 L341.04 94.20 L341.57 92.48 L342.10 90.78 L342.62 89.10 L343.15 87.44 L343.67 85.81 L344.20 84.20 L344.73 82.62 L345.25 81.06 L345.78 79.53 L346.31 78.02 L346.83 76.54 L347.36 75.08 L347.88 73.65 L348.41 72.24 L348.94 70.85 L349.46 69.49 L349.99 68.15 L350.52 66.84 L351.04 65.55 L351.57 64.29 L352.09 63.05 L352.62 61.83 L353.15 60.64 L353.67 59.47 L354.20 58.32 L354.73 57.20 L355.25 56.10 L355.78 55.02 L356.30 53.96 L356.83 52.92 L357.36 51.91 L357.88 50.92 L358.41 49.95 L358.94 49.00 L359.46 48.07 L359.99 47.16 L360.51 46.27 L361.04 45.40 L361.57 44.55 L362.09 43.72 L362.62 42.91 L363.15 42.11 L363.67 41.34 L364.20 40.58 L364.72 39.84 L365.25 39.12 L365.78 38.41 L366.30 37.72 L366.83 37.05 L367.36 36.39 L367.88 35.75 L368.41 35.13 L368.93 34.51 L369.46 33.92 L369.99 33.34 L370.51 32.77 L371.04 32.22 L371.56 31.68 L372.09 31.15 L372.62 30.64 L373.14 30.14 L373.67 29.65 L374.20 29.17 L374.72 28.71 L375.25 28.26 L375.78 27.82 L376.30 27.39 L376.83 26.97 L377.35 26.57 L377.88 26.17 L378.41 25.78 L378.93 25.40 L379.46 25.04 L379.99 24.68 L380.51 24.33 L381.04 23.99 L381.56 23.66 L382.09 23.34 L382.62 23.03 L383.14 22.72 L383.67 22.43 L384.19 22.14 L384.72 21.86 L385.25 21.58 L385.77 21.32 L386.30 21.06 L386.83 20.81 L387.35 20.56 L387.88 20.32 L388.41 20.09 L388.93 19.86 L389.46 19.64 L389.98 19.43 L390.51 19.22 L391.04 19.02 L391.56 18.82 L392.09 18.63 L392.62 18.44 L393.14 18.26 L393.67 18.08 L394.19 17.91 L394.72 17.75 L395.25 17.58 L395.77 17.43 L396.30 17.27 L396.82 17.12 L397.35 16.98 L397.88 16.84 L398.40 16.70 L398.93 16.57 L399.46 16.44 L399.98 16.31 L400.51 16.19 L401.04 16.07 L401.56 15.95 L402.09 15.84 L402.61 15.73 L403.14 15.63 L403.67 15.52 L404.19 15.42 L404.72 15.33 L405.25 15.23 L405.77 15.14 L406.30 15.05 L406.82 14.97 L407.35 14.88 L407.88 14.80 L408.40 14.72 L408.93 14.65 L409.46 14.57 L409.98 14.50 L410.51 14.43 L411.03 14.37 L411.56 14.30 L412.09 14.24 L412.61 14.18 L413.14 14.13 L413.67 14.07 L414.19 14.02 L414.72 13.97 L415.24 13.92 L415.77 13.88 L416.30 13.83 L416.82 13.79 L417.35 13.75 L417.88 13.72 L418.40 13.68 L418.93 13.65 L419.45 13.62 L419.98 13.60 L420.51 13.57 L421.03 13.55 L421.56 13.54 L422.08 13.52 L422.61 13.51 L423.14 13.50 L423.66 13.50 L424.19 13.50 L424.72 13.50 L425.24 13.51 L425.77 13.52 L426.29 13.54 L426.82 13.56 L427.35 13.59 L427.87 13.63 L428.40 13.67 L428.93 13.72 L429.45 13.77 L429.98 13.84 L430.51 13.91 L431.03 13.99 L431.56 14.08 L432.08 14.18 L432.61 14.30 L433.14 14.43 L433.66 14.57 L434.19 14.72 L434.72 14.89 L435.24 15.08 L435.77 15.29 L436.29 15.52 L436.82 15.77 L437.35 16.05 L437.87 16.35 L438.40 16.68 L438.93 17.04 L439.45 17.44 L439.98 17.87 L440.50 18.34 L441.03 18.85 L441.56 19.41 L442.08 20.02 L442.61 20.68 L443.13 21.40 L443.66 22.18 L444.19 23.03 L444.71 23.95 L445.24 24.95 L445.77 26.03 L446.29 27.20 L446.82 28.47 L447.34 29.84 L447.87 31.32 L448.40 32.92 L448.92 34.64 L449.45 36.50 L449.98 38.50 L450.50 40.64 L451.03 42.95 L451.56 45.42 L452.08 48.06 L452.61 50.89 L453.13 53.91 L453.66 57.12 L454.19 60.53 L454.71 64.16 L455.24 68.00 L455.77 72.06 L456.29 76.34 L456.82 80.84 L457.34 85.56 L457.87 90.50 L458.40 95.65 L458.92 101.02 L459.45 106.58 L459.98 112.34 L460.50 118.27 L461.03 124.36 L461.55 130.60 L462.08 136.97 L462.61 143.44 L463.13 150.00 L463.66 156.62 L464.19 163.28 L464.71 169.94 L465.24 176.60 L465.76 183.22 L466.29 189.77 L466.82 196.24 L467.34 202.61 L467.87 208.85 L468.39 214.94 L468.92 220.87 L469.45 226.62 L469.97 232.19 L470.50 237.55" stroke="#00ffff" stroke-width="1.9" stroke-linejoin="round" stroke-dasharray="4 1 1 1"/>
<text transform="translate(125.50,314.80) skewX(0.1) scale(0.970,1)" text-anchor="end" style="font-size:10.00px;fill:#000000">Matter_2</text>
<path d="M131 311.8 H159" stroke="#000000" stroke-width="1.7" stroke-dasharray="1.8 1 1.8 2.4"/>
<path d="M49 321 H222" stroke="#000000" stroke-width="2" shape-rendering="crispEdges" stroke-dasharray="2 1 2 2"/>
<path d="M221.58 320.54 L222.11 320.53 L222.64 320.51 L223.16 320.50 L223.69 320.48 L224.22 320.47 L224.74 320.45 L225.27 320.44 L225.79 320.42 L226.32 320.40 L226.85 320.39 L227.37 320.37 L227.90 320.35 L228.43 320.33 L228.95 320.31 L229.48 320.29 L230.00 320.27 L230.53 320.25 L231.06 320.23 L231.58 320.21 L232.11 320.18 L232.63 320.16 L233.16 320.14 L233.69 320.11 L234.21 320.09 L234.74 320.06 L235.27 320.03 L235.79 320.00 L236.32 319.98 L236.85 319.95 L237.37 319.92 L237.90 319.88 L238.42 319.85 L238.95 319.82 L239.48 319.78 L240.00 319.75 L240.53 319.71 L241.06 319.68 L241.58 319.64 L242.11 319.60 L242.63 319.56 L243.16 319.52 L243.69 319.47 L244.21 319.43 L244.74 319.38 L245.27 319.34 L245.79 319.29 L246.32 319.24 L246.84 319.19 L247.37 319.14 L247.90 319.08 L248.42 319.03 L248.95 318.97" stroke="#000000" stroke-width="1.7" stroke-linejoin="round" stroke-dasharray="1.8 1 1.8 2.4"/>
<path d="M248.95 318.97 L249.47 318.92 L250.00 318.86 L250.53 318.79 L251.05 318.73 L251.58 318.67 L252.11 318.60 L252.63 318.53 L253.16 318.46 L253.69 318.39 L254.21 318.31 L254.74 318.24 L255.26 318.16 L255.79 318.08 L256.32 317.99 L256.84 317.91 L257.37 317.82 L257.89 317.73 L258.42 317.64 L258.95 317.54 L259.47 317.44 L260.00 317.34 L260.53 317.24 L261.05 317.13 L261.58 317.03 L262.11 316.91 L262.63 316.80 L263.16 316.68 L263.68 316.56 L264.21 316.43 L264.74 316.31 L265.26 316.18 L265.79 316.04 L266.32 315.90 L266.84 315.76 L267.37 315.61 L267.89 315.46 L268.42 315.31 L268.95 315.15 L269.47 314.99 L270.00 314.83 L270.52 314.65 L271.05 314.48 L271.58 314.30 L272.10 314.12 L272.63 313.93 L273.16 313.73 L273.68 313.54 L274.21 313.33" stroke="#000000" stroke-width="2.0" stroke-linejoin="round"/>
<path d="M274.21 313.33 L274.74 313.12 L275.26 312.91 L275.79 312.69 L276.31 312.47 L276.84 312.24 L277.37 312.00 L277.89 311.76 L278.42 311.51 L278.95 311.26 L279.47 311.00 L280.00 310.73 L280.52 310.46 L281.05 310.18 L281.58 309.89 L282.10 309.60 L282.63 309.30 L283.15 309.00 L283.68 308.68 L284.21 308.36 L284.73 308.04 L285.26 307.70 L285.79 307.36 L286.31 307.01 L286.84 306.65 L287.37 306.29 L287.89 305.91 L288.42 305.53 L288.94 305.14 L289.47 304.74 L290.00 304.34 L290.52 303.92 L291.05 303.50 L291.58 303.07 L292.10 302.63 L292.63 302.18 L293.15 301.72 L293.68 301.26 L294.21 300.78 L294.73 300.30 L295.26 299.80 L295.78 299.30 L296.31 298.79 L296.84 298.27 L297.36 297.74 L297.89 297.20 L298.42 296.65 L298.94 296.09 L299.47 295.53 L300.00 294.95 L300.52 294.37 L301.05 293.77 L301.57 293.17 L302.10 292.56 L302.63 291.94 L303.15 291.31 L303.68 290.67 L304.21 290.02 L304.73 289.36 L305.26 288.70 L305.78 288.02 L306.31 287.34 L306.84 286.65 L307.36 285.95 L307.89 285.25 L308.42 284.53 L308.94 283.81 L309.47 283.08 L309.99 282.35 L310.52 281.60 L311.05 280.85 L311.57 280.10 L312.10 279.34 L312.62 278.57 L313.15 277.79 L313.68 277.01 L314.20 276.23 L314.73 275.44 L315.26 274.64 L315.78 273.84 L316.31 273.04 L316.83 272.23 L317.36 271.42 L317.89 270.60 L318.41 269.78 L318.94 268.96 L319.47 268.14 L319.99 267.31 L320.52 266.49 L321.05 265.66 L321.57 264.83 L322.10 264.00 L322.62 263.17 L323.15 262.34 L323.68 261.51 L324.20 260.69 L324.73 259.86 L325.25 259.03 L325.78 258.21 L326.31 257.39 L326.83 256.57 L327.36 255.75 L327.89 254.94 L328.41 254.13 L328.94 253.32 L329.47 252.52 L329.99 251.72 L330.52 250.93 L331.04 250.14 L331.57 249.35 L332.10 248.58 L332.62 247.80 L333.15 247.04 L333.68 246.28 L334.20 245.52 L334.73 244.78 L335.25 244.04 L335.78 243.31 L336.31 242.58 L336.83 241.86 L337.36 241.15 L337.88 240.45 L338.41 239.75 L338.94 239.07 L339.46 238.39 L339.99 237.72 L340.52 237.06 L341.04 236.41 L341.57 235.76 L342.10 235.13 L342.62 234.50 L343.15 233.88 L343.67 233.27 L344.20 232.68 L344.73 232.09 L345.25 231.50 L345.78 230.93 L346.31 230.37 L346.83 229.82 L347.36 229.27 L347.88 228.74 L348.41 228.21 L348.94 227.69 L349.46 227.19 L349.99 226.69 L350.52 226.20 L351.04 225.72 L351.57 225.25 L352.09 224.78 L352.62 224.33 L353.15 223.88 L353.67 223.45 L354.20 223.02 L354.73 222.60 L355.25 222.19 L355.78 221.79 L356.30 221.39 L356.83 221.01 L357.36 220.63 L357.88 220.26 L358.41 219.90 L358.94 219.54 L359.46 219.20 L359.99 218.86 L360.51 218.53 L361.04 218.20 L361.57 217.88 L362.09 217.57 L362.62 217.27 L363.15 216.98 L363.67 216.69 L364.20 216.40 L364.72 216.13 L365.25 215.86 L365.78 215.59 L366.30 215.34 L366.83 215.09 L367.36 214.84 L367.88 214.60 L368.41 214.37 L368.93 214.14 L369.46 213.92 L369.99 213.70 L370.51 213.49 L371.04 213.28 L371.56 213.08 L372.09 212.89 L372.62 212.70 L373.14 212.51 L373.67 212.33 L374.20 212.15 L374.72 211.98 L375.25 211.81 L375.78 211.64 L376.30 211.48 L376.83 211.33 L377.35 211.18 L377.88 211.03 L378.41 210.88 L378.93 210.74 L379.46 210.61 L379.99 210.47 L380.51 210.34 L381.04 210.22 L381.56 210.09 L382.09 209.97 L382.62 209.86 L383.14 209.74 L383.67 209.63 L384.19 209.53 L384.72 209.42 L385.25 209.32 L385.77 209.22 L386.30 209.12 L386.83 209.03 L387.35 208.94 L387.88 208.85 L388.41 208.76 L388.93 208.68 L389.46 208.59 L389.98 208.51 L390.51 208.44 L391.04 208.36 L391.56 208.29 L392.09 208.22 L392.62 208.15 L393.14 208.08 L393.67 208.01 L394.19 207.95 L394.72 207.89 L395.25 207.83 L395.77 207.77 L396.30 207.71 L396.82 207.65 L397.35 207.60 L397.88 207.55 L398.40 207.50 L398.93 207.45 L399.46 207.40 L399.98 207.35 L400.51 207.30 L401.04 207.26 L401.56 207.22 L402.09 207.18 L402.61 207.13 L403.14 207.10 L403.67 207.06 L404.19 207.02 L404.72 206.98 L405.25 206.95 L405.77 206.91 L406.30 206.88 L406.82 206.85 L407.35 206.82 L407.88 206.79 L408.40 206.76 L408.93 206.73 L409.46 206.70 L409.98 206.68 L410.51 206.65 L411.03 206.63 L411.56 206.60 L412.09 206.58 L412.61 206.56 L413.14 206.54 L413.67 206.52 L414.19 206.50 L414.72 206.48 L415.24 206.46 L415.77 206.44 L416.30 206.43 L416.82 206.41 L417.35 206.40 L417.88 206.38 L418.40 206.37 L418.93 206.36 L419.45 206.35 L419.98 206.34 L420.51 206.33 L421.03 206.32 L421.56 206.32 L422.08 206.31 L422.61 206.31 L423.14 206.30 L423.66 206.30 L424.19 206.30 L424.72 206.30 L425.24 206.31 L425.77 206.31 L426.29 206.32 L426.82 206.33 L427.35 206.34 L427.87 206.35 L428.40 206.37 L428.93 206.38 L429.45 206.40 L429.98 206.43 L430.51 206.45 L431.03 206.49 L431.56 206.52 L432.08 206.56 L432.61 206.60 L433.14 206.65 L433.66 206.70 L434.19 206.76 L434.72 206.82 L435.24 206.89 L435.77 206.97 L436.29 207.06 L436.82 207.15 L437.35 207.25 L437.87 207.37 L438.40 207.49 L438.93 207.62 L439.45 207.77 L439.98 207.93 L440.50 208.11 L441.03 208.30 L441.56 208.51 L442.08 208.73 L442.61 208.98 L443.13 209.25 L443.66 209.54 L444.19 209.86 L444.71 210.20 L445.24 210.57 L445.77 210.98 L446.29 211.41 L446.82 211.89 L447.34 212.40 L447.87 212.95 L448.40 213.55 L448.92 214.19 L449.45 214.88 L449.98 215.63 L450.50 216.43 L451.03 217.29 L451.56 218.21 L452.08 219.19 L452.61 220.25 L453.13 221.37 L453.66 222.57 L454.19 223.85 L454.71 225.20 L455.24 226.63 L455.77 228.14 L456.29 229.74 L456.82 231.42 L457.34 233.18 L457.87 235.02 L458.40 236.95 L458.92 238.95 L459.45 241.02 L459.98 243.17 L460.50 245.38 L461.03 247.65 L461.55 249.98 L462.08 252.36 L462.61 254.77 L463.13 257.22 L463.66 259.69 L464.19 262.17 L464.71 264.66 L465.24 267.14 L465.76 269.61 L466.29 272.05 L466.82 274.47 L467.34 276.84 L467.87 279.17 L468.39 281.44 L468.92 283.65 L469.45 285.80 L469.97 287.87 L470.50 289.87" stroke="#000000" stroke-width="1.7" stroke-linejoin="round" stroke-dasharray="1.8 1 1.8 2.4"/>
</svg></body></html>
